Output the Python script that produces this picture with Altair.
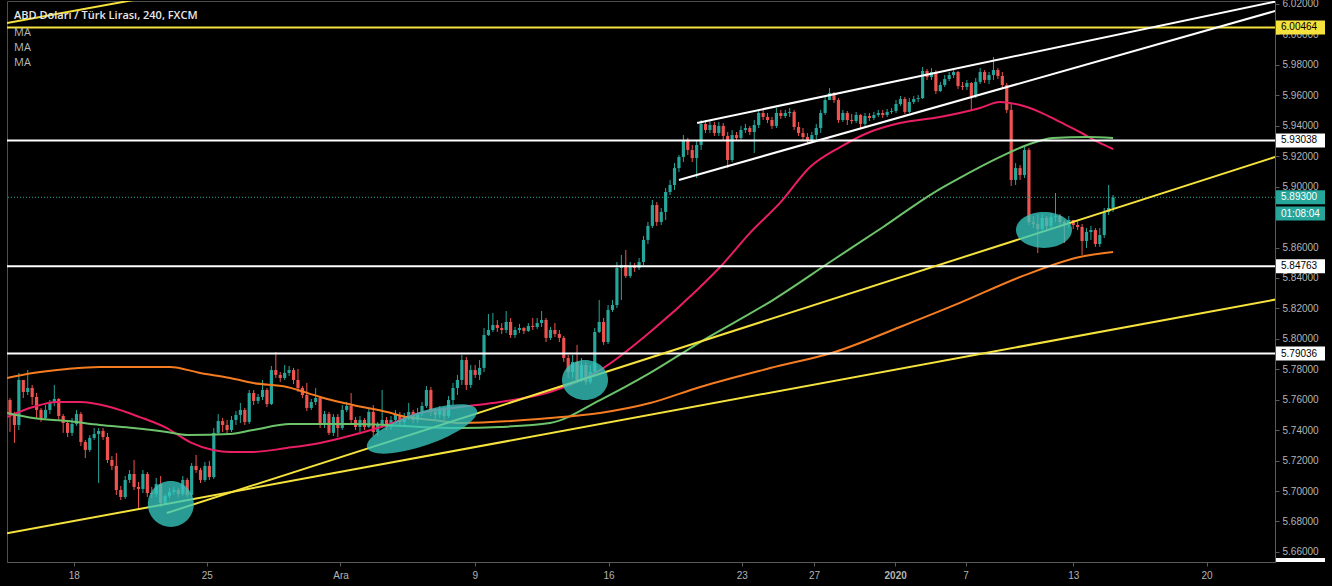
import altair as alt
import pandas as pd

# ---------------- data ----------------
FIRST_OPEN = 5.7598

close = [
    5.7500, 5.7434, 5.7730, 5.7651, 5.7677, 5.7618, 5.7533, 5.7480, 5.7533, 5.7579,
    5.7605, 5.7493, 5.7447, 5.7382, 5.7441, 5.7506, 5.7322, 5.7270, 5.7349, 5.7375,
    5.7395, 5.7355, 5.7204, 5.7165, 5.7007, 5.6961, 5.7073, 5.7112, 5.7027, 5.7014,
    5.7112, 5.6987, 5.6981, 5.7046, 5.6922, 5.6968, 5.6994, 5.7007, 5.6981, 5.7073,
    5.6974, 5.7165, 5.7138, 5.7073, 5.7165, 5.7092, 5.7382, 5.7460, 5.7434, 5.7401,
    5.7467, 5.7500, 5.7533, 5.7454, 5.7644, 5.7592, 5.7618, 5.7664, 5.7572, 5.7795,
    5.7763, 5.7743, 5.7776, 5.7795, 5.7730, 5.7677, 5.7631, 5.7546, 5.7585, 5.7611,
    5.7434, 5.7506, 5.7382, 5.7487, 5.7414, 5.7533, 5.7559, 5.7467, 5.7421, 5.7467,
    5.7421, 5.7520, 5.7388, 5.7434, 5.7467, 5.7421, 5.7467, 5.7500, 5.7454, 5.7487,
    5.7520, 5.7467, 5.7513, 5.7559, 5.7664, 5.7520, 5.7500, 5.7533, 5.7493, 5.7598,
    5.7677, 5.7730, 5.7861, 5.7697, 5.7795, 5.7763, 5.7809, 5.8025, 5.8058, 5.8091,
    5.8071, 5.8058, 5.8111, 5.8025, 5.8058, 5.8071, 5.8052, 5.8085, 5.8078, 5.8104,
    5.8124, 5.8006, 5.8058, 5.8032, 5.8006, 5.7874, 5.7782, 5.7848, 5.7730, 5.7828,
    5.7717, 5.7782, 5.8045, 5.8111, 5.7979, 5.8190, 5.8222, 5.8466, 5.8485, 5.8413,
    5.8479, 5.8466, 5.8505, 5.8650, 5.8742, 5.8879, 5.8768, 5.8834, 5.8965, 5.9011,
    5.9122, 5.9195, 5.9306, 5.9241, 5.9188, 5.9274, 5.9412, 5.9372, 5.9405, 5.9352,
    5.9399, 5.9333, 5.9175, 5.9339, 5.9320, 5.9372, 5.9385, 5.9359, 5.9405, 5.9484,
    5.9458, 5.9438, 5.9399, 5.9484, 5.9464, 5.9484, 5.9491, 5.9392, 5.9352, 5.9326,
    5.9300, 5.9339, 5.9385, 5.9484, 5.9569, 5.9615, 5.9569, 5.9438, 5.9484, 5.9438,
    5.9431, 5.9471, 5.9412, 5.9464, 5.9451, 5.9471, 5.9484, 5.9471, 5.9491, 5.9497,
    5.9543, 5.9576, 5.9491, 5.9556, 5.9576, 5.9582, 5.9760, 5.9720, 5.9753, 5.9628,
    5.9668, 5.9707, 5.9733, 5.9753, 5.9661, 5.9655, 5.9681, 5.9596, 5.9688, 5.9753,
    5.9701, 5.9733, 5.9766, 5.9727, 5.9668, 5.9504, 5.9044, 5.9122, 5.9076, 5.9241,
    5.8768, 5.8755, 5.8722, 5.8794, 5.8742, 5.8801, 5.8807, 5.8768, 5.8755, 5.8781,
    5.8748, 5.8735, 5.8643, 5.8702, 5.8715, 5.8623, 5.8682, 5.8833, 5.8860, 5.8930,
]

high = [
    5.7611, 5.7520, 5.7776, 5.7710, 5.7795, 5.7697, 5.7644, 5.7546, 5.7565, 5.7598,
    5.7697, 5.7611, 5.7506, 5.7467, 5.7480, 5.7533, 5.7520, 5.7336, 5.7368, 5.7414,
    5.7414, 5.7414, 5.7382, 5.7230, 5.7250, 5.7033, 5.7099, 5.7138, 5.7204, 5.7060,
    5.7138, 5.7125, 5.7027, 5.7086, 5.7099, 5.6981, 5.7020, 5.7027, 5.7020, 5.7099,
    5.7086, 5.7184, 5.7237, 5.7152, 5.7191, 5.7198, 5.7414, 5.7506, 5.7480, 5.7467,
    5.7493, 5.7526, 5.7579, 5.7546, 5.7664, 5.7664, 5.7638, 5.7730, 5.7677, 5.7822,
    5.7914, 5.7782, 5.7828, 5.7822, 5.7809, 5.7802, 5.7690, 5.7710, 5.7605, 5.7677,
    5.7625, 5.7526, 5.7520, 5.7506, 5.7506, 5.7565, 5.7585, 5.7644, 5.7487, 5.7493,
    5.7480, 5.7546, 5.7565, 5.7454, 5.7664, 5.7487, 5.7493, 5.7533, 5.7520, 5.7513,
    5.7579, 5.7533, 5.7546, 5.7585, 5.7690, 5.7684, 5.7546, 5.7559, 5.7552, 5.7625,
    5.7710, 5.7763, 5.7894, 5.7881, 5.7828, 5.7828, 5.7861, 5.8071, 5.8163, 5.8170,
    5.8124, 5.8104, 5.8183, 5.8137, 5.8078, 5.8098, 5.8078, 5.8104, 5.8137, 5.8137,
    5.8183, 5.8137, 5.8078, 5.8104, 5.8058, 5.8019, 5.7894, 5.7894, 5.7960, 5.7874,
    5.7848, 5.7828, 5.8071, 5.8255, 5.8137, 5.8222, 5.8255, 5.8505, 5.8551, 5.8584,
    5.8505, 5.8498, 5.8531, 5.8676, 5.8768, 5.8912, 5.8899, 5.8860, 5.8991, 5.9044,
    5.9155, 5.9208, 5.9339, 5.9320, 5.9274, 5.9306, 5.9438, 5.9438, 5.9431, 5.9425,
    5.9425, 5.9418, 5.9359, 5.9372, 5.9359, 5.9399, 5.9412, 5.9399, 5.9438, 5.9504,
    5.9504, 5.9484, 5.9458, 5.9517, 5.9504, 5.9504, 5.9517, 5.9504, 5.9425, 5.9385,
    5.9352, 5.9359, 5.9412, 5.9504, 5.9596, 5.9648, 5.9622, 5.9582, 5.9504, 5.9497,
    5.9477, 5.9491, 5.9477, 5.9484, 5.9484, 5.9491, 5.9504, 5.9504, 5.9510, 5.9517,
    5.9569, 5.9596, 5.9589, 5.9582, 5.9596, 5.9602, 5.9786, 5.9773, 5.9779, 5.9766,
    5.9688, 5.9733, 5.9753, 5.9766, 5.9760, 5.9688, 5.9701, 5.9688, 5.9714, 5.9779,
    5.9766, 5.9753, 5.9852, 5.9779, 5.9753, 5.9681, 5.9543, 5.9155, 5.9142, 5.9274,
    5.9254, 5.8807, 5.8820, 5.8820, 5.8807, 5.8827, 5.8958, 5.8820, 5.8781, 5.8807,
    5.8781, 5.8781, 5.8755, 5.8728, 5.8742, 5.8728, 5.8728, 5.8860, 5.9011, 5.8945,
]

low = [
    5.7388, 5.7316, 5.7401, 5.7611, 5.7631, 5.7565, 5.7480, 5.7454, 5.7467, 5.7506,
    5.7559, 5.7467, 5.7382, 5.7355, 5.7362, 5.7428, 5.7296, 5.7217, 5.7257, 5.7336,
    5.7053, 5.7336, 5.7184, 5.7138, 5.6974, 5.6941, 5.6948, 5.7053, 5.7007, 5.6876,
    5.6987, 5.6961, 5.6954, 5.6961, 5.6895, 5.6908, 5.6954, 5.6974, 5.6961, 5.6968,
    5.6961, 5.6961, 5.7119, 5.7053, 5.7060, 5.7073, 5.7079, 5.7368, 5.7388, 5.7375,
    5.7388, 5.7434, 5.7447, 5.7434, 5.7441, 5.7565, 5.7572, 5.7598, 5.7552, 5.7565,
    5.7743, 5.7717, 5.7730, 5.7756, 5.7703, 5.7651, 5.7611, 5.7526, 5.7533, 5.7565,
    5.7414, 5.7414, 5.7368, 5.7362, 5.7355, 5.7401, 5.7520, 5.7441, 5.7401, 5.7388,
    5.7401, 5.7414, 5.7362, 5.7362, 5.7414, 5.7401, 5.7401, 5.7441, 5.7434, 5.7434,
    5.7467, 5.7447, 5.7447, 5.7493, 5.7546, 5.7493, 5.7474, 5.7480, 5.7467, 5.7480,
    5.7565, 5.7631, 5.7697, 5.7664, 5.7677, 5.7743, 5.7730, 5.7782, 5.8019, 5.8045,
    5.8045, 5.8032, 5.8038, 5.8006, 5.8006, 5.8038, 5.8032, 5.8045, 5.8058, 5.8065,
    5.8078, 5.7979, 5.7993, 5.8012, 5.7979, 5.7848, 5.7743, 5.7743, 5.7710, 5.7717,
    5.7697, 5.7703, 5.7763, 5.8038, 5.7960, 5.7966, 5.8177, 5.8203, 5.8255, 5.8400,
    5.8400, 5.8440, 5.8452, 5.8485, 5.8623, 5.8728, 5.8742, 5.8748, 5.8781, 5.8945,
    5.8978, 5.9096, 5.9162, 5.9208, 5.9162, 5.9057, 5.9241, 5.9352, 5.9352, 5.9333,
    5.9333, 5.9306, 5.9122, 5.9162, 5.9300, 5.9306, 5.9352, 5.9339, 5.9221, 5.9385,
    5.9438, 5.9418, 5.9379, 5.9385, 5.9445, 5.9451, 5.9458, 5.9372, 5.9333, 5.9306,
    5.9280, 5.9287, 5.9306, 5.9352, 5.9471, 5.9569, 5.9550, 5.9418, 5.9425, 5.9405,
    5.9412, 5.9418, 5.9385, 5.9398, 5.9431, 5.9438, 5.9458, 5.9451, 5.9458, 5.9477,
    5.9484, 5.9530, 5.9477, 5.9484, 5.9543, 5.9556, 5.9576, 5.9701, 5.9701, 5.9609,
    5.9622, 5.9655, 5.9694, 5.9714, 5.9642, 5.9635, 5.9635, 5.9504, 5.9582, 5.9674,
    5.9681, 5.9674, 5.9701, 5.9707, 5.9648, 5.9484, 5.9004, 5.9011, 5.9044, 5.9057,
    5.8748, 5.8728, 5.8564, 5.8702, 5.8715, 5.8728, 5.8768, 5.8742, 5.8630, 5.8728,
    5.8722, 5.8715, 5.8551, 5.8597, 5.8650, 5.8604, 5.8604, 5.8663, 5.8814, 5.8833,
]

# moving averages (bar index, price) read at sample points
ma_red_i = [-0.68, 5.2, 10.6, 15.8, 22.6, 29.3, 35.4, 40.6, 45.8, 49.7, 54.9, 62.5, 70.0, 77.4,
            85.1, 92.6, 101.6, 110.6, 121.9, 133.2, 144.5, 155.8, 160.3, 167.0, 173.8, 180.6,
            187.4, 194.1, 200.9, 209.9, 219.0, 223.5, 228.0, 232.5, 237.0, 241.5, 246.0, 249.0]
ma_red_p = [5.7486, 5.7552, 5.7585, 5.7585, 5.7552, 5.7486, 5.7414, 5.7322, 5.7270, 5.7257,
            5.7257, 5.7283, 5.7316, 5.7368, 5.7434, 5.7513, 5.7552, 5.7585, 5.7651, 5.7795,
            5.8045, 5.8341, 5.8472, 5.8695, 5.8893, 5.9129, 5.9260, 5.9359, 5.9418, 5.9458,
            5.9517, 5.9556, 5.9536, 5.9490, 5.9425, 5.9359, 5.9287, 5.9247]

ma_green_i = [-0.68, 5.2, 12.9, 20.3, 27.8, 35.4, 40.0, 49.7, 54.9, 63.2, 77.4, 85.1, 92.6,
              101.6, 110.6, 121.9, 133.2, 144.5, 155.8, 172.2, 185.8, 197.1, 208.4, 214.4,
              223.5, 229.6, 235.4, 243.1, 249.0]
ma_green_p = [5.7513, 5.7480, 5.7460, 5.7434, 5.7414, 5.7388, 5.7368, 5.7375, 5.7401, 5.7440,
              5.7440, 5.7434, 5.7421, 5.7414, 5.7421, 5.7447, 5.7598, 5.7776, 5.7979, 5.8255,
              5.8518, 5.8735, 5.8958, 5.9057, 5.9195, 5.9274, 5.9320, 5.9326, 5.9320]

ma_orange_i = [-0.68, 5.2, 12.9, 20.3, 27.8, 36.1, 42.9, 49.7, 54.9, 62.5, 70.0, 77.4, 85.1,
               89.6, 95.5, 101.6, 121.9, 133.2, 144.5, 155.8, 171.6, 186.2, 200.9, 214.4,
               228.0, 241.5, 249.0]
ma_orange_p = [5.7743, 5.7776, 5.7802, 5.7815, 5.7815, 5.7815, 5.7776, 5.7743, 5.7710, 5.7684,
               5.7618, 5.7565, 5.7519, 5.7486, 5.7467, 5.7447, 5.7480, 5.7513, 5.7578, 5.7684,
               5.7808, 5.7914, 5.8078, 5.8236, 5.8406, 5.8538, 5.8571]

# drawn trend lines: (start index, start price, end index, end price)
trend_names = ["yellow_top", "yellow_low", "yellow_up", "white_low", "white_up"]
trend_i0 = [-0.68, -0.68, 35.4, 151.0, 155.1]
trend_p0 = [6.0075, 5.6722, 5.6856, 5.9044, 5.9418]
trend_i1 = [31.6, 285.6, 285.6, 285.6, 285.6]
trend_p1 = [6.0246, 5.8258, 5.9195, 6.0154, 6.0216]

# horizontal levels
level_prices = [6.00464, 5.93038, 5.84763, 5.79036]

# highlighted zones (ellipses): centre index, centre price
zone_i = [36.3, 93.0, 129.8, 233.4]
zone_p = [5.6915, 5.7408, 5.7730, 5.8715]

last_price = 5.89300
countdown = "01:08:04"

tag_prices = [6.00464, 5.93038, 5.89300, 5.84763, 5.79036]
tag_labels = ["6.00464", "5.93038", "5.89300", "5.84763", "5.79036"]

x_tick_pos = [14.4, 44.4, 74.6, 104.9, 135.1, 165.2, 181.5, 199.8, 215.7, 240.0, 270.1]
x_tick_lab = ["18", "25", "Ara", "9", "16", "23", "27", "2020", "7", "13", "20"]
# 5.88000 is fully hidden behind the countdown tag in the reference
y_ticks = [5.66, 5.68, 5.70, 5.72, 5.74, 5.76, 5.78, 5.80, 5.82, 5.84, 5.86,
           5.90, 5.92, 5.94, 5.96, 5.98, 6.00, 6.02]

TITLE = "ABD Doları / Türk Lirası, 240, FXCM"

# ---------------- styles ----------------
UP = "#26a69a"
DOWN = "#ef5350"
YELLOW = "#f5e23d"
WHITE = "#ffffff"
TEAL = "#26a69a"
FONT = "Liberation Sans"
TAG_HALF = 0.0046      # half tag height in price units (about 7 px)
CD_SHIFT = 0.0107      # countdown tag sits about 16 px under the last-price tag

xs = alt.Scale(domain=[-0.68, 285.55], nice=False, zero=False)
ys = alt.Scale(domain=[5.65338, 6.02197], nice=False, zero=False)

label_expr = ("[" + ",".join("'%s'" % s for s in x_tick_lab) + "][indexof(["
              + ",".join(str(v) for v in x_tick_pos) + "], datum.value)]")

x_axis = alt.Axis(values=x_tick_pos, labelExpr=label_expr, title=None, grid=False,
                  tickSize=4, labelPadding=4, labelFlush=False, labelOverlap=False,
                  labelFontWeight={"condition": {"test": "datum.value == 199.8", "value": "bold"},
                                   "value": "normal"})
y_axis = alt.Axis(orient="right", values=y_ticks, format=".5f", title=None, grid=False,
                  tickSize=4, labelPadding=3, labelFlush=False, labelOverlap=False)


def X(field):
    return alt.X(field, type="quantitative", scale=xs, axis=x_axis)


def Y(field):
    return alt.Y(field, type="quantitative", scale=ys, axis=y_axis)


# ---------------- tables ----------------
n = len(close)
opens = [FIRST_OPEN] + close[:-1]
cdf = pd.DataFrame({"i": list(range(n)), "open": opens, "high": high, "low": low, "close": close})

ma_df = pd.concat([
    pd.DataFrame({"i": ma_red_i, "p": ma_red_p, "s": "red", "col": "#e91e63"}),
    pd.DataFrame({"i": ma_green_i, "p": ma_green_p, "s": "green", "col": "#6cc36a"}),
    pd.DataFrame({"i": ma_orange_i, "p": ma_orange_p, "s": "orange", "col": "#f57c20"}),
], ignore_index=True)

trend_rows = []
for k, name in enumerate(trend_names):
    col = YELLOW if name.startswith("yellow") else WHITE
    trend_rows.append({"id": name, "i": trend_i0[k], "p": trend_p0[k], "col": col})
    trend_rows.append({"id": name, "i": trend_i1[k], "p": trend_p1[k], "col": col})
trend_df = pd.DataFrame(trend_rows)

level_df = pd.DataFrame({"p": level_prices, "col": [YELLOW, WHITE, WHITE, WHITE]})

zone_df = pd.DataFrame({
    "i": zone_i, "p": zone_p,
    "path": ["M-1,0A1,1 0 1,0 1,0A1,1 0 1,0 -1,0Z",
             "M-1,0A1,0.29 0 1,0 1,0A1,0.29 0 1,0 -1,0Z",
             "M-1,0A1,0.87 0 1,0 1,0A1,0.87 0 1,0 -1,0Z",
             "M-1,0A1,0.64 0 1,0 1,0A1,0.64 0 1,0 -1,0Z"],
    "size": [2116, 13456, 2116, 3136],
    "ang": [0, 341, 0, 0],
})

tag_df = pd.DataFrame({
    "p": tag_prices, "label": tag_labels,
    "bg": [YELLOW, WHITE, TEAL, WHITE, WHITE],
    "fg": ["#000000", "#000000", "#ffffff", "#000000", "#000000"],
})

# ---------------- layers ----------------
cbase = alt.Chart(cdf).transform_calculate(
    col="datum.close >= datum.open ? '%s' : '%s'" % (UP, DOWN),
    hi="max(datum.high, datum.open, datum.close)",
    lo="min(datum.low, datum.open, datum.close)",
    xl="datum.i - 0.36",
    xr="datum.i + 0.36",
)
wicks = cbase.mark_rule(strokeWidth=1).encode(
    x=X("i"), y=Y("lo"), y2="hi:Q", color=alt.Color("col:N", scale=None))
bodies = cbase.mark_rect().encode(
    x=X("xl"), x2="xr:Q", y=Y("open"), y2="close:Q", color=alt.Color("col:N", scale=None))

dotted = alt.Chart(pd.DataFrame({"p": [last_price]})).mark_rule(
    strokeWidth=1, strokeDash=[1, 2], color=TEAL).encode(y=Y("p"))

levels = alt.Chart(level_df).mark_rule(strokeWidth=2).encode(
    y=Y("p"), color=alt.Color("col:N", scale=None))

mas = alt.Chart(ma_df).mark_line(strokeWidth=2, interpolate="monotone", clip=True).encode(
    x=X("i"), y=Y("p"), color=alt.Color("col:N", scale=None), detail="s:N", order="i:Q")

trends = alt.Chart(trend_df).mark_line(strokeWidth=2, clip=True).encode(
    x=X("i"), y=Y("p"), color=alt.Color("col:N", scale=None), detail="id:N")

zones = alt.Chart(zone_df).mark_point(filled=True, color="#35c6be", opacity=0.78, strokeWidth=0).encode(
    x=X("i"), y=Y("p"),
    shape=alt.Shape("path:N", scale=None),
    size=alt.Size("size:Q", scale=None),
    angle=alt.Angle("ang:Q", scale=None),
)

tag_rects = alt.Chart(tag_df).transform_calculate(
    lo="datum.p - %f" % TAG_HALF, hi="datum.p + %f" % TAG_HALF
).mark_rect().encode(
    x=alt.value(1269), x2=alt.value(1318), y=Y("lo"), y2="hi:Q",
    color=alt.Color("bg:N", scale=None))
tag_texts = alt.Chart(tag_df).mark_text(
    align="left", baseline="middle", font=FONT, fontSize=10).encode(
    x=alt.value(1274), y=Y("p"), text="label:N", color=alt.Color("fg:N", scale=None))

cd_df = pd.DataFrame({"p": [last_price], "label": [countdown]})
cd_base = alt.Chart(cd_df).transform_calculate(
    c="datum.p - %f" % CD_SHIFT,
    lo="datum.p - %f - %f" % (CD_SHIFT, TAG_HALF),
    hi="datum.p - %f + %f" % (CD_SHIFT, TAG_HALF),
)
cd_rect = cd_base.mark_rect(color=TEAL).encode(
    x=alt.value(1269), x2=alt.value(1318), y=Y("lo"), y2="hi:Q")
cd_text = cd_base.mark_text(
    align="left", baseline="middle", font=FONT, fontSize=10, color="#ffffff").encode(
    x=alt.value(1274), y=Y("c"), text="label:N")

bottom_tag = alt.Chart(pd.DataFrame({"p1": [5.6560], "p2": [5.65338]})).mark_rect(color=WHITE).encode(
    x=alt.value(1269), x2=alt.value(1318), y=Y("p1"), y2="p2:Q")

title_t = alt.Chart(pd.DataFrame({"t": [TITLE]})).mark_text(
    align="left", baseline="middle", font="Open Sans", fontSize=11, fontWeight=600,
    color="#e8e8e8").encode(x=alt.value(7), y=alt.value(15), text="t:N")
ma_texts = [
    alt.Chart(pd.DataFrame({"t": ["MA"]})).mark_text(
        align="left", baseline="middle", font="Open Sans", fontSize=11,
        color="#b8b8b8").encode(x=alt.value(7), y=alt.value(yy), text="t:N")
    for yy in (32, 47, 62)
]

chart = alt.layer(
    wicks, bodies, dotted, mas, levels, trends, zones,
    tag_rects, tag_texts, cd_rect, cd_text, bottom_tag, title_t, *ma_texts
).properties(
    width=1268, height=561, autosize="none",
    padding={"left": 7, "top": 1, "right": 57, "bottom": 24},
).configure(background="#000000").configure_view(
    stroke="#4f4f4f", strokeWidth=1
).configure_axis(
    domainColor="#5a5a5a", tickColor="#5a5a5a", labelColor="#b4b4b4",
    labelFont=FONT, labelFontSize=10, grid=False
)

chart.save("out.html", embed_options={"renderer": "svg", "actions": False})
